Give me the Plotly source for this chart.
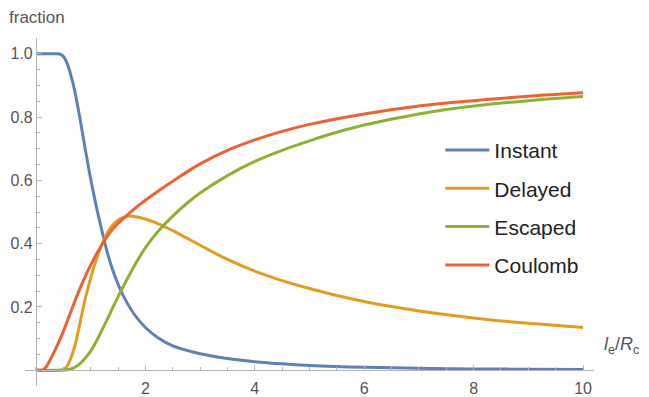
import plotly.graph_objects as go

# Fractions of events versus l_e / R_c
x_instant = [0, 0.2, 0.4, 0.45, 0.5, 0.55, 0.6, 0.65, 0.7, 0.8, 0.9, 1.0, 1.1, 1.2, 1.3, 1.4,
             1.5, 1.6, 1.8, 2.0, 2.25, 2.5, 3.0, 3.5, 4.0, 4.5, 5.0, 6.0, 7.0, 8.0, 9.0, 10.0]
instant = [1.0, 1.0, 1.0, 0.998, 0.992, 0.978, 0.955, 0.925, 0.89, 0.80, 0.70, 0.605, 0.52,
           0.445, 0.375, 0.318, 0.272, 0.234, 0.176, 0.135, 0.10, 0.077, 0.052, 0.037, 0.027,
           0.02, 0.015, 0.009, 0.006, 0.004, 0.003, 0.002]

x_delayed = [0, 0.45, 0.5, 0.55, 0.6, 0.7, 0.8, 0.9, 1.0, 1.1, 1.2, 1.3, 1.4, 1.5, 1.6, 1.7,
             1.8, 2.0, 2.25, 2.5, 2.75, 3.0, 3.5, 4.0, 4.5, 5.0, 5.5, 6.0, 6.5, 7.0, 8.0, 9.0,
             10.0]
delayed = [0, 0, 0.002, 0.008, 0.022, 0.07, 0.145, 0.225, 0.292, 0.348, 0.395, 0.432, 0.458,
           0.474, 0.483, 0.487, 0.486, 0.478, 0.462, 0.441, 0.418, 0.395, 0.35, 0.313, 0.283,
           0.258, 0.236, 0.217, 0.201, 0.187, 0.165, 0.148, 0.135]

x_escaped = [0, 0.5, 0.6, 0.7, 0.8, 0.9, 1.0, 1.1, 1.2, 1.3, 1.4, 1.5, 1.6, 1.8, 2.0, 2.25,
             2.5, 2.75, 3.0, 3.5, 4.0, 4.5, 5.0, 5.5, 6.0, 7.0, 8.0, 9.0, 10.0]
escaped = [0, 0, 0.002, 0.008, 0.02, 0.038, 0.06, 0.09, 0.124, 0.16, 0.196, 0.232, 0.266,
           0.33, 0.387, 0.442, 0.487, 0.526, 0.56, 0.615, 0.66, 0.695, 0.725, 0.752, 0.775,
           0.81, 0.835, 0.852, 0.865]

x_coulomb = [0, 0.1, 0.15, 0.2, 0.3, 0.4, 0.5, 0.6, 0.7, 0.8, 0.9, 1.0, 1.2, 1.4, 1.6, 1.8,
             2.0, 2.25, 2.5, 3.0, 3.5, 4.0, 4.5, 5.0, 6.0, 7.0, 8.0, 9.0, 10.0]
coulomb = [0, 0, 0.003, 0.014, 0.046, 0.082, 0.122, 0.168, 0.213, 0.256, 0.296, 0.332, 0.395,
           0.445, 0.48, 0.51, 0.537, 0.568, 0.597, 0.652, 0.695, 0.728, 0.755, 0.777, 0.81,
           0.835, 0.852, 0.866, 0.877]

series = [
    ("Instant", x_instant, instant, "#5E81B5"),
    ("Delayed", x_delayed, delayed, "#E19C24"),
    ("Escaped", x_escaped, escaped, "#8FB032"),
    ("Coulomb", x_coulomb, coulomb, "#EB6235"),
]

x_ticks = [2, 4, 6, 8, 10]
y_ticks = [0.2, 0.4, 0.6, 0.8, 1.0]
y_ticktext = ["0.2", "0.4", "0.6", "0.8", "1.0"]

x_range = [-0.2, 10.2]
y_range = [-0.05, 1.05]

fig = go.Figure()
for name, xs, ys, color in series:
    fig.add_trace(go.Scatter(
        x=xs, y=ys, name=name, mode="lines", legendgroup=name,
        line=dict(color=color, width=3, shape="spline", smoothing=1.0),
    ))

axis_color = "#B5B5B5"
font_family = "Liberation Sans, Arial, sans-serif"
tick_font = dict(family=font_family, size=16, color="#555555")

fig.update_layout(
    width=649, height=397,
    margin=dict(l=25, r=55, t=38, b=11, autoexpand=False),
    paper_bgcolor="white", plot_bgcolor="white",
    showlegend=True,
    legend=dict(
        x=0.73, y=0.736, xanchor="left", yanchor="top",
        font=dict(family=font_family, size=21, color="#222222"),
        tracegroupgap=8, traceorder="grouped", bgcolor="rgba(0,0,0,0)",
        itemwidth=44,
    ),
    xaxis=dict(
        range=x_range, anchor="free", automargin=False,
        position=(0 - y_range[0]) / (y_range[1] - y_range[0]),
        showgrid=False, zeroline=False, showline=True, linecolor=axis_color, linewidth=1,
        tickmode="array", tickvals=x_ticks, ticktext=[str(v) for v in x_ticks],
        ticks="inside", ticklen=5, tickcolor=axis_color, tickfont=tick_font,
        ticklabelstandoff=4,
        minor=dict(tickmode="linear", tick0=0, dtick=0.5, ticks="inside", ticklen=3,
                   tickcolor=axis_color, showgrid=False),
    ),
    yaxis=dict(
        range=y_range, anchor="free", automargin=False,
        position=(0 - x_range[0]) / (x_range[1] - x_range[0]),
        showgrid=False, zeroline=False, showline=True, linecolor=axis_color, linewidth=1,
        tickmode="array", tickvals=y_ticks, ticktext=y_ticktext,
        ticks="inside", ticklen=5, tickcolor=axis_color, tickfont=tick_font,
        minor=dict(tickmode="linear", tick0=0, dtick=0.05, ticks="inside", ticklen=3,
                   tickcolor=axis_color, showgrid=False),
    ),
)

fig.add_annotation(
    text="fraction", xref="paper", yref="paper", x=-0.032, y=1.0, yshift=21,
    xanchor="left", yanchor="middle", showarrow=False,
    font=dict(family=font_family, size=17, color="#555555"),
)
fig.add_annotation(
    text="<i>l</i><sub>e</sub>/<i>R</i><sub>c</sub>", xref="paper", yref="y",
    x=1.0, y=0, xshift=8, yshift=25, xanchor="left", yanchor="middle", showarrow=False,
    font=dict(family=font_family, size=18, color="#555555"),
)

fig.write_html("out.html")
